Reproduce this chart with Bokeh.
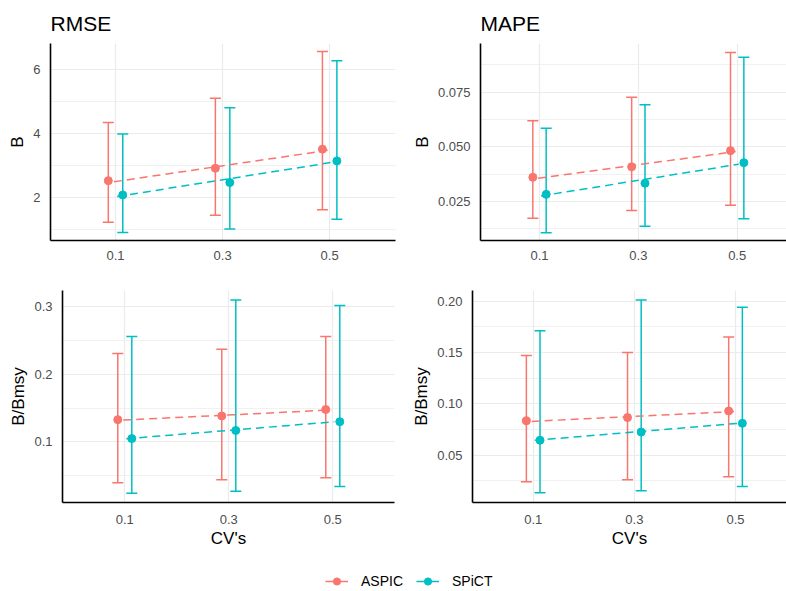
import numpy as np
from bokeh.plotting import figure
from bokeh.models import (ColumnDataSource, Whisker, TeeHead, Range1d, FixedTicker,
                          Legend, LegendItem)
from bokeh.layouts import column, row
from bokeh.embed import file_html
from bokeh.resources import INLINE

# ---------------- data ----------------
cv = [0.1, 0.3, 0.5]
cv_labels = {0.1: "0.1", 0.3: "0.3", 0.5: "0.5"}
methods = ["ASPIC", "SPiCT"]
colors = {"ASPIC": "#F8766D", "SPiCT": "#00BFC4"}

# RMSE, B
rmse_b_aspic = [2.52, 2.91, 3.51]
rmse_b_aspic_lo = [1.21, 1.43, 1.61]
rmse_b_aspic_hi = [4.35, 5.11, 6.58]
rmse_b_spict = [2.07, 2.46, 3.14]
rmse_b_spict_lo = [0.89, 1.00, 1.31]
rmse_b_spict_hi = [3.99, 4.81, 6.29]

# MAPE, B
mape_b_aspic = [0.0361, 0.0409, 0.0483]
mape_b_aspic_lo = [0.0174, 0.0209, 0.0233]
mape_b_aspic_hi = [0.0620, 0.0727, 0.0932]
mape_b_spict = [0.0283, 0.0334, 0.0428]
mape_b_spict_lo = [0.0108, 0.0137, 0.0171]
mape_b_spict_hi = [0.0585, 0.0693, 0.0910]

# RMSE, B/Bmsy
rmse_bb_aspic = [0.133, 0.1385, 0.148]
rmse_bb_aspic_lo = [0.0397, 0.044, 0.047]
rmse_bb_aspic_hi = [0.231, 0.237, 0.256]
rmse_bb_spict = [0.105, 0.117, 0.130]
rmse_bb_spict_lo = [0.024, 0.027, 0.034]
rmse_bb_spict_hi = [0.256, 0.310, 0.302]

# MAPE, B/Bmsy
mape_bb_aspic = [0.0834, 0.0866, 0.093]
mape_bb_aspic_lo = [0.024, 0.026, 0.029]
mape_bb_aspic_hi = [0.147, 0.150, 0.165]
mape_bb_spict = [0.0645, 0.0725, 0.081]
mape_bb_spict_lo = [0.0133, 0.0154, 0.0194]
mape_bb_spict_hi = [0.171, 0.201, 0.194]

# y tick labels per panel
tl_ticks = [2, 4, 6]; tl_minor = [1, 3, 5]; tl_labels = ["2", "4", "6"]
tr_ticks = [0.025, 0.05, 0.075]; tr_minor = [0.0125, 0.0375, 0.0625, 0.0875]
tr_labels = ["0.025", "0.050", "0.075"]
bl_ticks = [0.1, 0.2, 0.3]; bl_minor = [0.05, 0.15, 0.25]; bl_labels = ["0.1", "0.2", "0.3"]
br_ticks = [0.05, 0.10, 0.15, 0.20]; br_minor = [0.025, 0.075, 0.125, 0.175]
br_labels = ["0.05", "0.10", "0.15", "0.20"]

FONT = "Liberation Sans"
DODGE = 0.0135
LINE_DODGE = 0.003


def make_panel(width, height, mb, xr, yr, ticks, minor, labels, ylabel, xlabel, title,
               series, x_standoff):
    p = figure(width=width, height=height, output_backend="svg", toolbar_location=None,
               x_range=Range1d(*xr), y_range=Range1d(*yr),
               min_border_left=mb[0], min_border_right=mb[1],
               min_border_top=mb[2], min_border_bottom=mb[3])
    p.outline_line_color = None
    p.background_fill_color = "white"
    p.border_fill_color = "white"
    if title:
        p.title.text = title
        p.title.text_font = FONT
        p.title.text_font_size = "21px"
        p.title.text_font_style = "normal"
        p.title.text_color = "black"
        p.title.align = "left"
        p.title.vertical_align = "top"
        p.title.standoff = 14
    p.xaxis.ticker = FixedTicker(ticks=cv)
    p.xaxis.major_label_overrides = cv_labels
    p.yaxis.ticker = FixedTicker(ticks=ticks, minor_ticks=minor)
    p.yaxis.major_label_overrides = {t: l for t, l in zip(ticks, labels)}
    for ax in (p.xaxis, p.yaxis):
        ax.axis_line_color = "black"
        ax.axis_line_width = 1.6
        ax.major_tick_line_color = None
        ax.minor_tick_line_color = None
        ax.major_label_text_font = FONT
        ax.major_label_text_font_size = "13px"
        ax.major_label_text_color = "#4D4D4D"
        ax.axis_label_text_font = FONT
        ax.axis_label_text_font_size = "17px"
        ax.axis_label_text_font_style = "normal"
        ax.axis_label_text_color = "black"
    p.xaxis.major_label_standoff = x_standoff
    p.yaxis.major_label_standoff = 4
    p.yaxis.axis_label = ylabel
    p.yaxis.axis_label_standoff = 3
    if xlabel:
        p.xaxis.axis_label = xlabel
        p.xaxis.axis_label_standoff = 2
    p.xgrid.grid_line_color = "#EBEBEB"
    p.xgrid.grid_line_width = 1.2
    p.ygrid.grid_line_color = "#EBEBEB"
    p.ygrid.grid_line_width = 1.2
    p.ygrid.minor_grid_line_color = "#EBEBEB"
    p.ygrid.minor_grid_line_width = 0.7

    x = np.array(cv)
    for m, sign in zip(methods, (-1, 1)):
        mid, lo, hi = series[m]
        col = colors[m]
        # linear fit (dashed)
        slope, icpt = np.polyfit(x, np.array(mid), 1)
        lx = np.array([x[0], x[-1]]) + sign * LINE_DODGE
        p.line(lx, icpt + slope * np.array([x[0], x[-1]]), line_color=col,
               line_width=1.5, line_dash="8 5")
        xd = x + sign * DODGE
        src = ColumnDataSource(dict(x=xd, y=mid, lo=lo, hi=hi))
        w = Whisker(source=src, base="x", upper="hi", lower="lo", dimension="height",
                    line_color=col, line_width=1.5,
                    upper_head=TeeHead(size=11, line_color=col, line_width=1.5),
                    lower_head=TeeHead(size=11, line_color=col, line_width=1.5))
        p.add_layout(w)
        p.scatter("x", "y", source=src, size=8, fill_color=col, line_color=col)
    return p


p1 = make_panel(400, 265, (50, 5, 43, 25), (-0.0215, 0.623), (0.64, 6.83),
                tl_ticks, tl_minor, tl_labels, "B", None, "RMSE",
                {"ASPIC": (rmse_b_aspic, rmse_b_aspic_lo, rmse_b_aspic_hi),
                 "SPiCT": (rmse_b_spict, rmse_b_spict_lo, rmse_b_spict_hi)}, 4)
p2 = make_panel(386, 265, (80, 0, 43, 25), (-0.0194, 0.5998), (0.0072, 0.0973),
                tr_ticks, tr_minor, tr_labels, "B", None, "MAPE",
                {"ASPIC": (mape_b_aspic, mape_b_aspic_lo, mape_b_aspic_hi),
                 "SPiCT": (mape_b_spict, mape_b_spict_lo, mape_b_spict_hi)}, 4)
p3 = make_panel(400, 285, (62, 6, 25, 45), (-0.0198, 0.6187), (0.0105, 0.324),
                bl_ticks, bl_minor, bl_labels, "B/Bmsy", "CV's", None,
                {"ASPIC": (rmse_bb_aspic, rmse_bb_aspic_lo, rmse_bb_aspic_hi),
                 "SPiCT": (rmse_bb_spict, rmse_bb_spict_lo, rmse_bb_spict_hi)}, 6)
p4 = make_panel(386, 285, (72, 0, 25, 45), (-0.02, 0.6008), (0.0039, 0.2103),
                br_ticks, br_minor, br_labels, "B/Bmsy", "CV's", None,
                {"ASPIC": (mape_bb_aspic, mape_bb_aspic_lo, mape_bb_aspic_hi),
                 "SPiCT": (mape_bb_spict, mape_bb_spict_lo, mape_bb_spict_hi)}, 6)

# legend strip
leg = figure(width=786, height=41, output_backend="svg", toolbar_location=None,
             x_range=Range1d(0, 1), y_range=Range1d(0, 1),
             min_border_left=0, min_border_right=0, min_border_top=0, min_border_bottom=0)
leg.axis.visible = False
leg.grid.visible = False
leg.outline_line_color = None
items = []
for m in methods:
    lr = leg.line([-10, -9], [-10, -10], line_color=colors[m], line_width=1.5)
    sr = leg.scatter([-9.5], [-10], size=8, fill_color=colors[m], line_color=colors[m])
    items.append(LegendItem(label=m, renderers=[lr, sr]))
legend = Legend(items=items, orientation="horizontal", location=(325, 1),
                glyph_width=23, glyph_height=18, label_standoff=13, spacing=13,
                padding=0, margin=0, border_line_color=None, background_fill_alpha=0,
                label_text_font=FONT, label_text_font_size="14px",
                label_text_color="black")
leg.add_layout(legend, "center")

layout = column(row(p1, p2), row(p3, p4), leg)
open("out.html", "w").write(file_html(layout, INLINE))
